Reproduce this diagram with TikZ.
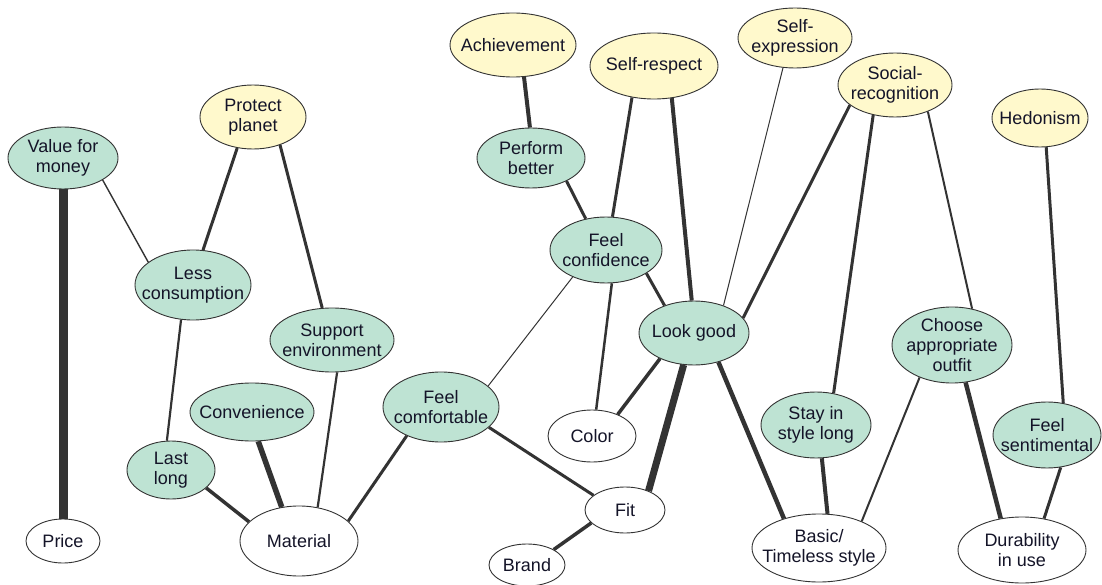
\documentclass[tikz,border=0pt]{standalone}
\usepackage{fontspec}
\setmainfont{Liberation Sans}
\usetikzlibrary{shapes.geometric}
\definecolor{mint}{RGB}{190,227,211}
\definecolor{cream}{RGB}{255,249,204}
\definecolor{edgec}{RGB}{51,51,51}
\definecolor{txt}{RGB}{20,20,40}
\tikzset{
  base/.style={ellipse, draw=edgec, line width=0.9pt, inner sep=-18pt, align=center,
    text=txt, font=\fontsize{18}{20}\selectfont},
  goal/.style={base, fill=cream},
  cons/.style={base, fill=mint},
  attr/.style={base, fill=white},
  sz/.style n args={2}{minimum width=#1pt, minimum height=#2pt},
  link/.style={draw=edgec, line width=#1pt},
}
\begin{document}
\begin{tikzpicture}[x=1pt,y=-1pt]
\useasboundingbox (0,0) rectangle (1102,585);
% goals
\node[goal, sz={106}{64}] (pp) at (253,117) {Protect\\planet};
\node[goal, sz={126}{64}] (ach) at (513,45) {Achievement};
\node[goal, sz={128}{66}] (sr) at (654,66) {Self-respect};
\node[goal, sz={114}{60}] (se) at (795,38) {Self-\\expression};
\node[goal, sz={114}{64}] (soc) at (895,85) {Social-\\recognition};
\node[goal, sz={96}{58}] (hed) at (1040,118) {Hedonism};
% consequences
\node[cons, sz={110}{62}] (vfm) at (63,158) {Value for\\money};
\node[cons, sz={116}{70}] (lc) at (193,285) {Less\\consumption};
\node[cons, sz={124}{64}] (se2) at (332,340) {Support\\environment};
\node[cons, sz={124}{58}] (conv) at (252,412) {Convenience};
\node[cons, sz={88}{58}] (ll) at (171,470) {Last\\long};
\node[cons, sz={108}{60}] (pb) at (531,158) {Perform\\better};
\node[cons, sz={112}{66}] (fconf) at (606,250) {Feel\\confidence};
\node[cons, sz={116}{70}] (fcomf) at (441,407) {Feel\\comfortable};
\node[cons, sz={110}{64}] (lg) at (694,333) {Look good};
\node[cons, sz={120}{76}] (cao) at (952,345) {Choose\\appropriate\\outfit};
\node[cons, sz={110}{66}] (sis) at (816,425) {Stay in\\style long};
\node[cons, sz={108}{66}] (fs) at (1047,435) {Feel\\sentimental};
% attributes
\node[attr, sz={74}{44}] (price) at (63,541) {Price};
\node[attr, sz={118}{70}] (mat) at (299,541) {Material};
\node[attr, sz={88}{52}] (col) at (592,436) {Color};
\node[attr, sz={80}{46}] (fit) at (625,510) {Fit};
\node[attr, sz={76}{42}] (brand) at (527,565) {Brand};
\node[attr, sz={134}{68}] (bts) at (819,548) {Basic/\\Timeless style};
\node[attr, sz={128}{66}] (dur) at (1022,550) {Durability\\in use};
% links
\draw[link=9] (vfm) -- (price);
\draw[link=1.4] (vfm.-29) -- (lc.153);
\draw[link=3] (pp.-117) -- (lc.74);
\draw[link=3] (pp.-46) -- (se2.107);
\draw[link=2.2] (lc.-109) -- (ll.98);
\draw[link=3.5] (ll.-27) -- (mat.159);
\draw[link=5.5] (conv.-78) -- (mat.117);
\draw[link=2.2] (se2.-81) -- (mat.61);
\draw[link=3] (fcomf.-140) -- (mat.22);
\draw[link=1] (fcomf.24) -- (fconf.-141);
\draw[link=3] (fcomf.-23) -- (fit.155);
\draw[link=3.5] (fit.-159) -- (brand.30);
\draw[link=4] (ach.-71) -- (pb.92);
\draw[link=3] (pb.-33) -- (fconf.123);
\draw[link=3] (sr.-125) -- (fconf.79);
\draw[link=4] (sr.-61) -- (lg.94);
\draw[link=1] (se.-112) -- (lg.43);
\draw[link=3] (soc.-156) -- (lg.17);
\draw[link=3] (soc.-126) -- (sis.61);
\draw[link=2] (soc.-39) -- (cao.61);
\draw[link=3] (hed.-78) -- (fs.63);
\draw[link=2.5] (fconf.-80) -- (col.81);
\draw[link=3] (fconf.-30) -- (lg.137);
\draw[link=3.5] (lg.-143) -- (col.40);
\draw[link=7] (lg.-108) -- (fit.39);
\draw[link=4.5] (lg.-50) -- (bts.140);
\draw[link=4] (sis.-80) -- (bts.76);
\draw[link=2] (cao.-135) -- (bts.32);
\draw[link=4.5] (cao.-70) -- (dur.124);
\draw[link=3] (fs.-67) -- (dur.55);
\end{tikzpicture}
\end{document}
